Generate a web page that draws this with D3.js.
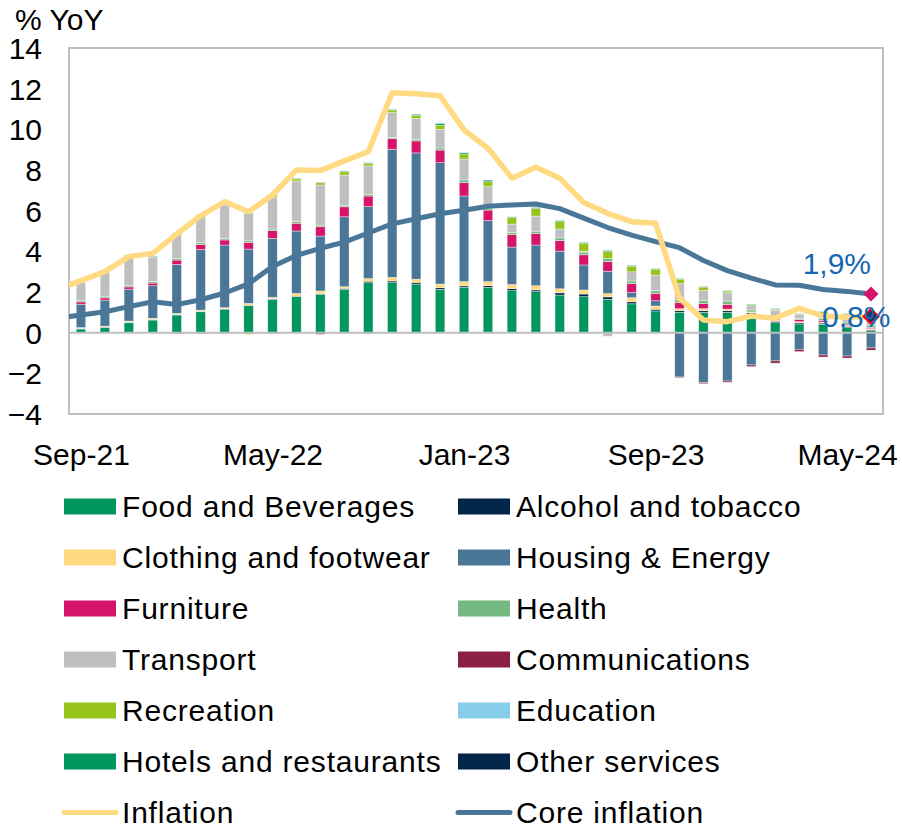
<!DOCTYPE html>
<html>
<head>
<meta charset="utf-8">
<script src="https://cdn.jsdelivr.net/npm/d3@7"></script>
<style>
  html, body { margin: 0; padding: 0; background: #fff; }
  svg { display: block; font-family: "Liberation Sans", Arial, sans-serif; }
</style>
</head>
<body>
<svg id="chart" width="902" height="829"></svg>
<script>
// Monthly categories on the horizontal axis
const months = ["Sep-21","Oct-21","Nov-21","Dec-21","Jan-22","Feb-22","Mar-22","Apr-22","May-22","Jun-22","Jul-22","Aug-22",
  "Sep-22","Oct-22","Nov-22","Dec-22","Jan-23","Feb-23","Mar-23","Apr-23","May-23","Jun-23","Jul-23","Aug-23",
  "Sep-23","Oct-23","Nov-23","Dec-23","Jan-24","Feb-24","Mar-24","Apr-24","May-24","Jun-24"];
// Line series start one month earlier (Aug-21); that point falls outside the plot and is clipped
const lineMonths = ["Aug-21"].concat(months);
const xTickLabels = ["Sep-21","May-22","Jan-23","Sep-23","May-24"];
const yTicks = [-4,-2,0,2,4,6,8,10,12,14];

// Contributions to headline inflation, percentage points
const food =      [0.18,0.25,0.49,0.62,0.87,1.03,1.15,1.33,1.64,1.77,1.89,2.13,2.46,2.46,2.39,2.13,2.23,2.23,2.07,2.02,1.85,1.77,1.64,1.42,1.07,1.00,1.00,1.00,0.92,0.49,0.43,0.41,0.25,0.10];
const alcohol =   [0.02,0.02,0.02,0.02,0.02,0.02,0.02,0.02,0.02,0.03,0.03,0.05,0.07,0.08,0.08,0.08,0.07,0.08,0.10,0.08,0.11,0.13,0.12,0.10,0.08,0.08,0.08,0.08,0.06,0.07,0.06,0.06,0.06,0.05];
const clothing =  [0.05,0.05,0.06,0.07,0.06,0.06,0.06,0.09,0.08,0.13,0.13,0.08,0.13,0.18,0.16,0.18,0.21,0.20,0.20,0.21,0.20,0.20,0.16,0.20,0.16,0.10,0.10,0.08,0.04,0.06,0.05,0.05,0.05,0.05];
const housing =   [1.15,1.28,1.57,1.60,2.41,2.98,3.08,2.67,2.90,3.07,2.70,3.44,3.54,6.30,6.21,5.97,4.21,3.00,1.84,2.00,1.85,1.23,1.10,0.25,0.26,-2.18,-2.46,-2.38,-1.59,-1.39,-0.82,-1.10,-1.15,-0.75];
const furniture = [0.11,0.11,0.11,0.13,0.21,0.25,0.25,0.33,0.38,0.38,0.46,0.49,0.52,0.52,0.59,0.62,0.66,0.52,0.61,0.57,0.52,0.50,0.47,0.44,0.36,0.30,0.25,0.23,0.00,0.10,0.11,0.08,0.06,0.05];
const health =    [0.07,0.08,0.07,0.07,0.08,0.08,0.08,0.08,0.08,0.08,0.08,0.08,0.07,0.07,0.07,0.10,0.13,0.08,0.11,0.11,0.13,0.13,0.16,0.13,0.13,0.13,0.16,0.16,0.10,0.10,0.06,0.10,0.10,0.12];
const transport = [0.89,1.15,1.46,1.21,1.15,1.28,1.64,1.34,1.56,2.00,1.97,1.48,1.41,1.21,1.03,0.92,1.03,1.07,0.41,0.74,0.44,0.05,-0.18,0.41,0.77,0.80,0.49,0.41,0.20,0.28,0.20,0.25,0.30,0.18];
const communications = [0,0,0,0,-0.05,-0.05,-0.04,0,-0.04,0,-0.08,0,-0.05,0,0,0,0,0,0,0,0,0,0,0.04,0,-0.03,-0.05,-0.06,-0.08,-0.11,-0.11,-0.10,-0.10,-0.11];
const recreation = [0.02,0.02,0.02,0.03,0.08,0.08,0.10,-0.08,0.08,0.10,0.11,0.16,0.13,0.13,0.16,0.21,0.25,0.25,0.33,0.38,0.36,0.39,0.34,0.28,0.29,0.22,0.16,0.08,0.06,0.05,0.02,0.08,0.10,0.03];
const education = [0,0,0,0,0,0,0,0,0,0,0,0,0,0,0,0,0,0,0,0,0,0,0,0,0,0,0,0,0,0,0,0,0,0];
const hotels =    [0.02,0.02,0.02,0.02,0.02,0.02,0.02,0.02,0.02,0.03,0.03,0.04,0.03,0.03,0.05,0.08,0.06,0.07,0.03,0.04,0.05,0.04,0.05,0.04,0.03,0.03,0.03,0.03,0.02,0.03,0.02,0.02,0.02,0.02];
const other =     [0,0,0,0,0,0,0,0,0,0,0,0,0,0,0,0,0,0,0,0,0,0,0,0,0,0,0,0,0,0,0,0,0,0];

// Headline and core inflation, % YoY (Aug-21 .. Jun-24)
const inflation = [2.13,2.56,3.00,3.74,3.90,4.85,5.75,6.45,5.95,6.77,8.00,7.97,8.45,8.90,11.80,11.75,11.65,9.97,9.07,7.60,8.14,7.60,6.40,5.87,5.46,5.38,1.70,0.62,0.54,0.82,0.71,1.20,0.82,0.76,0.80];
const core =      [0.71,0.87,1.03,1.28,1.52,1.38,1.62,1.95,2.40,3.25,3.80,4.15,4.45,4.90,5.35,5.60,5.85,6.02,6.22,6.28,6.33,6.10,5.63,5.17,4.80,4.48,4.18,3.55,3.05,2.68,2.35,2.33,2.12,2.03,1.90];

const seriesNames = ["Food and Beverages","Alcohol and tobacco","Clothing and footwear","Housing & Energy","Furniture","Health",
  "Transport","Communications","Recreation","Education","Hotels and restaurants","Other services"];
const seriesValues = [food, alcohol, clothing, housing, furniture, health, transport, communications, recreation, education, hotels, other];
const seriesColors = ["#00965E","#03254A","#FFD97F","#4A7698","#D5146A","#74BA80","#BFBFBF","#8C1F45","#97C31D","#87CEEB","#00965E","#03254A"];
const lineNames = ["Inflation","Core inflation"];
const lineColors = ["#FFDA83","#4A7698"];
const annotationColor = "#1566B4";

const svg = d3.select("#chart");
const plot = { left: 69, right: 883, top: 48, bottom: 414 };

const y = d3.scaleLinear().domain([-4, 14]).range([plot.bottom, plot.top]);
// Category index -> pixel centre (categories sit between tick marks)
const x = d3.scaleLinear().domain([-0.5, months.length - 0.5]).range([plot.left, plot.right]);
const barWidth = 9.5;

svg.append("clipPath").attr("id", "plotClip")
  .append("rect").attr("x", plot.left).attr("y", plot.top)
  .attr("width", plot.right - plot.left).attr("height", plot.bottom - plot.top);

// Stacked contributions (negatives stacked downward from zero)
const table = months.map((m, i) => {
  const row = { month: m, idx: i };
  seriesNames.forEach((s, k) => { row[s] = seriesValues[k][i]; });
  return row;
});
const stack = d3.stack().keys(seriesNames).offset(d3.stackOffsetDiverging);
const layers = stack(table);

const barsG = svg.append("g");
layers.forEach((layer, k) => {
  barsG.append("g").attr("fill", seriesColors[k])
    .selectAll("rect").data(layer.filter(d => d[1] !== d[0]))
    .join("rect")
    .attr("x", d => x(d.data.idx) - barWidth / 2)
    .attr("width", barWidth)
    .attr("y", d => y(Math.max(d[0], d[1])))
    .attr("height", d => Math.abs(y(d[0]) - y(d[1])))
    .attr("stroke", "rgba(255,255,255,0.55)")
    .attr("stroke-width", 0.7);
});

// Frame and zero line
svg.append("rect").attr("x", plot.left).attr("y", plot.top)
  .attr("width", plot.right - plot.left).attr("height", plot.bottom - plot.top)
  .attr("fill", "none").attr("stroke", "#BFBFBF").attr("stroke-width", 2);
svg.append("line").attr("x1", plot.left).attr("x2", plot.right)
  .attr("y1", y(0)).attr("y2", y(0)).attr("stroke", "#BFBFBF").attr("stroke-width", 2);

// Lines
const lineGen = d3.line().x((d, i) => x(i - 1)).y(d => y(d));
const linesG = svg.append("g").attr("clip-path", "url(#plotClip)");
linesG.append("path").datum(core).attr("d", lineGen)
  .attr("fill", "none").attr("stroke", lineColors[1]).attr("stroke-width", 5).attr("stroke-linejoin", "round");
linesG.append("path").datum(inflation).attr("d", lineGen)
  .attr("fill", "none").attr("stroke", lineColors[0]).attr("stroke-width", 5.5).attr("stroke-linejoin", "round");

// Y axis labels
const yAxis = d3.axisLeft(y).tickValues(yTicks).tickSize(0).tickPadding(0).tickFormat(d3.format("d"));
const yG = svg.append("g").attr("transform", `translate(${plot.left - 27},0)`).call(yAxis);
yG.select(".domain").remove();
yG.selectAll("text").attr("font-size", 30).attr("fill", "#000").attr("font-family", "Liberation Sans, Arial, sans-serif")
  .attr("dy", "0.35em");

// X axis labels
const tickIdx = xTickLabels.map(l => months.indexOf(l));
const xAxis = d3.axisBottom(x).tickValues(tickIdx).tickSize(0).tickPadding(0).tickFormat(i => months[i]);
const xG = svg.append("g").attr("transform", `translate(0,${plot.bottom + 51})`).call(xAxis);
xG.select(".domain").remove();
xG.selectAll("text").attr("font-size", 30).attr("fill", "#000").attr("dy", 0)
  .attr("font-family", "Liberation Sans, Arial, sans-serif");

// Unit title
svg.append("text").attr("x", 15).attr("y", 30).attr("font-size", 30).attr("fill", "#000").text("% YoY");

// End markers and labels (square rotated 45° for a diamond)
const last = months.length - 1;
const diamond = d3.symbol().type(d3.symbolSquare).size(112);
svg.append("path").attr("d", diamond)
  .attr("transform", `translate(${x(last)},${y(core[core.length - 1])}) rotate(45)`)
  .attr("fill", "#D5146A");
svg.append("path").attr("d", diamond)
  .attr("transform", `translate(${x(last)},${y(inflation[inflation.length - 1])}) rotate(45)`)
  .attr("fill", "#17375E").attr("stroke", "#FF0000").attr("stroke-width", 2);
svg.append("text").attr("x", x(last)).attr("y", y(core[core.length - 1]) - 20)
  .attr("text-anchor", "end").attr("font-size", 30).attr("fill", annotationColor)
  .text(d3.format(".1f")(core[core.length - 1]).replace(".", ",") + "%");
svg.append("text").attr("x", x(last) - 49).attr("y", y(inflation[inflation.length - 1]) + 11)
  .attr("font-size", 30).attr("fill", annotationColor)
  .text(d3.format(".1f")(inflation[inflation.length - 1]).replace(".", ",") + "%");

// Legend: two columns, rows in series order
const legendItems = seriesNames.map((n, k) => ({ name: n, color: seriesColors[k], kind: "rect" }))
  .concat(lineNames.map((n, k) => ({ name: n, color: lineColors[k], kind: "line" })));
const legendX = [64, 458], legendY0 = 506.5, legendDY = 51;
const lg = svg.append("g");
legendItems.forEach((it, k) => {
  const cx = legendX[k % 2], cy = legendY0 + Math.floor(k / 2) * legendDY;
  if (it.kind === "rect") {
    lg.append("rect").attr("x", cx).attr("y", cy - 8).attr("width", 52).attr("height", 16).attr("fill", it.color);
  } else {
    lg.append("line").attr("x1", cx).attr("x2", cx + 52).attr("y1", cy).attr("y2", cy)
      .attr("stroke", it.color).attr("stroke-width", 5).attr("stroke-linecap", "round");
  }
  lg.append("text").attr("x", cx + 58).attr("y", cy + 10).attr("font-size", 30)
    .attr("letter-spacing", "0.8px").attr("fill", "#000").text(it.name);
});
</script>
</body>
</html>
